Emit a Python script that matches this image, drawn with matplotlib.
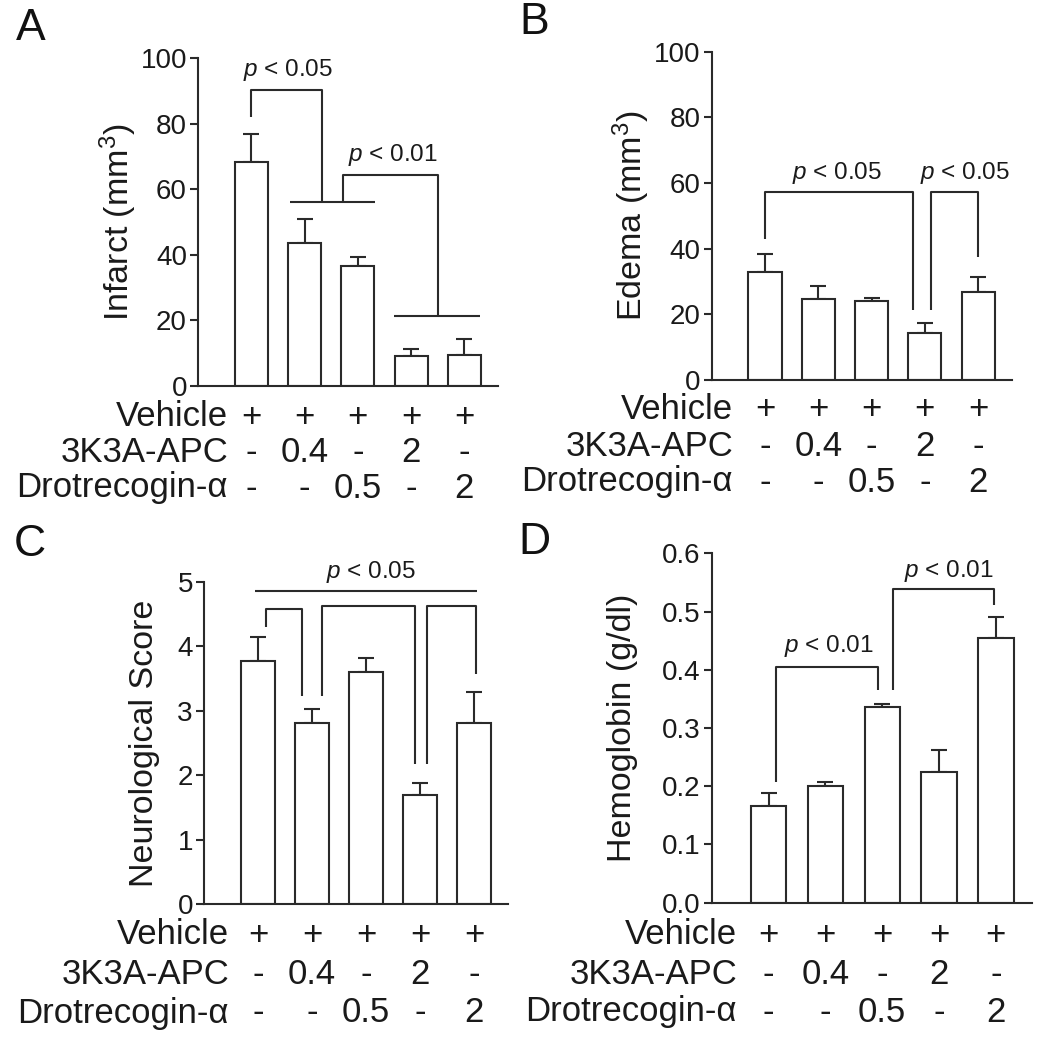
import matplotlib
matplotlib.use("Agg")
import matplotlib.pyplot as plt
import matplotlib.transforms as mtransforms
import numpy as np

plt.rcParams['font.family'] = ['Liberation Sans', 'DejaVu Sans']
plt.rcParams['mathtext.fontset'] = 'custom'
plt.rcParams['mathtext.rm'] = 'Liberation Sans'
plt.rcParams['mathtext.it'] = 'Liberation Sans:italic'

# data
row_names = ['Vehicle', '3K3A-APC', 'Drotrecogin-\u03b1']
row_vehicle = ['+', '+', '+', '+', '+']
row_apc = ['-', '0.4', '-', '2', '-']
row_drot = ['-', '-', '0.5', '-', '2']

infarct_mean = [68.4, 43.5, 36.7, 9.1, 9.6]
infarct_sem = [8.4, 7.4, 2.7, 2.2, 4.6]
edema_mean = [33.0, 24.7, 24.1, 14.4, 26.9]
edema_sem = [5.3, 4.0, 0.8, 2.9, 4.6]
neuro_mean = [3.77, 2.81, 3.60, 1.69, 2.81]
neuro_sem = [0.37, 0.22, 0.22, 0.19, 0.48]
hemo_mean = [0.166, 0.200, 0.337, 0.224, 0.454]
hemo_sem = [0.022, 0.008, 0.004, 0.039, 0.036]

# significance brackets (data coords) and labels
brackets_a = [[(0, 81.9), (0, 90.2), (1.33, 90.2), (1.33, 56.1)],
              [(0.73, 56.1), (2.33, 56.1)],
              [(1.73, 56.1), (1.73, 64.3), (3.5, 64.3), (3.5, 21.3)],
              [(2.68, 21.3), (4.3, 21.3)]]
ptext_a = [(0.68, 96.3, '0.05'), (2.65, 70.4, '0.01')]
brackets_b = [[(0, 42.9), (0, 57.2), (2.77, 57.2), (2.77, 21.3)],
              [(3.12, 21.3), (3.12, 57.2), (4.0, 57.2), (4.0, 37.6)]]
ptext_b = [(1.36, 63.0, '0.05'), (3.75, 63.0, '0.05')]
brackets_c = [[(-0.06, 4.86), (4.06, 4.86)],
              [(0.14, 4.30), (0.14, 4.57), (0.81, 4.57), (0.81, 3.23)],
              [(1.19, 3.23), (1.19, 4.62), (2.90, 4.62), (2.90, 2.17)],
              [(3.13, 2.17), (3.13, 4.62), (4.03, 4.62), (4.03, 3.57)]]
ptext_c = [(2.09, 5.15, '0.05')]
brackets_d = [[(0.13, 0.207), (0.13, 0.405), (1.93, 0.405), (1.93, 0.365)],
              [(2.19, 0.365), (2.19, 0.539), (3.97, 0.539), (3.97, 0.511)]]
ptext_d = [(1.07, 0.441, '0.01'), (3.18, 0.570, '0.01')]

W, H = 1044, 1050
fig = plt.figure(figsize=(W / 100, H / 100), dpi=100)

LC = '#2a2a2a'
TC = '#1a1a1a'

panels = [
    dict(letter='A', rect=(198, 386, 300, 328), mean=infarct_mean, sem=infarct_sem,
         ylim=(0, 100), ticks=[0, 20, 40, 60, 80, 100], fmt='{:.0f}',
         ylabel='Infarct (mm$^3$)', ylabel_x=118, row_x=228, row_ys=[417, 453, 488],
         brackets=brackets_a, ptexts=ptext_a, letter_xy=(31, 28)),
    dict(letter='B', rect=(711.7, 380, 300, 328.3), mean=edema_mean, sem=edema_sem,
         ylim=(0, 100), ticks=[0, 20, 40, 60, 80, 100], fmt='{:.0f}',
         ylabel='Edema (mm$^3$)', ylabel_x=631, row_x=733, row_ys=[410, 447, 482],
         brackets=brackets_b, ptexts=ptext_b, letter_xy=(534, 22)),
    dict(letter='C', rect=(204, 904, 304, 322.3), mean=neuro_mean, sem=neuro_sem,
         ylim=(0, 5), ticks=[0, 1, 2, 3, 4, 5], fmt='{:.0f}',
         ylabel='Neurological Score', ylabel_x=145, row_x=229, row_ys=[935, 975, 1013],
         brackets=brackets_c, ptexts=ptext_c, letter_xy=(30, 545)),
    dict(letter='D', rect=(711.7, 902.7, 320, 349.3), mean=hemo_mean, sem=hemo_sem,
         ylim=(0, 0.6), ticks=[0.0, 0.1, 0.2, 0.3, 0.4, 0.5, 0.6], fmt='{:.1f}',
         ylabel='Hemoglobin (g/dl)', ylabel_x=623, row_x=737, row_ys=[935, 975, 1012],
         brackets=brackets_d, ptexts=ptext_d, letter_xy=(534, 542)),
]

rows = [row_vehicle, row_apc, row_drot]

for p in panels:
    l, b, w, h = p['rect']
    ax = fig.add_axes([l / W, (H - b) / H, w / W, h / H])
    x = np.arange(len(p['mean']))
    ax.bar(x, p['mean'], width=0.62, color='white', edgecolor=LC, linewidth=1.5, zorder=2)
    ax.errorbar(x, p['mean'], yerr=[np.zeros(len(x)), p['sem']], fmt='none',
                ecolor=LC, elinewidth=1.5, capsize=6, capthick=1.5, zorder=1)
    ax.set_xlim(-1, 4.63)
    ax.set_ylim(*p['ylim'])
    ax.set_yticks(p['ticks'])
    ax.set_yticklabels([p['fmt'].format(t) for t in p['ticks']], fontsize=20, color=TC)
    ax.set_xticks([])
    for s in ['top', 'right']:
        ax.spines[s].set_visible(False)
    for s in ['left', 'bottom']:
        ax.spines[s].set_linewidth(1.5)
        ax.spines[s].set_color(LC)
    ax.tick_params(axis='y', direction='out', length=6, width=1.5, color=LC, pad=2)

    # y label
    ax.text((p['ylabel_x'] - l) / w, 0.5, p['ylabel'], rotation=90, ha='center', va='center',
            fontsize=24.5, color=TC, transform=ax.transAxes)

    # brackets
    for br in p['brackets']:
        bx, by = zip(*br)
        ax.plot(bx, by, color=LC, linewidth=1.5, clip_on=False, solid_capstyle='butt')
    for tx, ty, val in p['ptexts']:
        ax.text(tx, ty, r'$\it{p}$ < ' + val, ha='center', va='center', fontsize=17.5,
                color=TC, clip_on=False)

    # treatment rows under the axis
    trans = mtransforms.blended_transform_factory(ax.transData, fig.transFigure)
    for name, vals, ry in zip(row_names, rows, p['row_ys']):
        yf = (H - ry) / H
        fig.text(p['row_x'] / W, yf, name, ha='right', va='center', fontsize=25, color=TC)
        for xi, v in zip(x, vals):
            ax.text(xi, yf, v, ha='center', va='center', fontsize=25, color=TC,
                    transform=trans, clip_on=False)

    lx, ly = p['letter_xy']
    fig.text(lx / W, (H - ly) / H, p['letter'], ha='center', va='center', fontsize=32, color='#111')

fig.savefig('out.png', dpi=100, facecolor='white')
